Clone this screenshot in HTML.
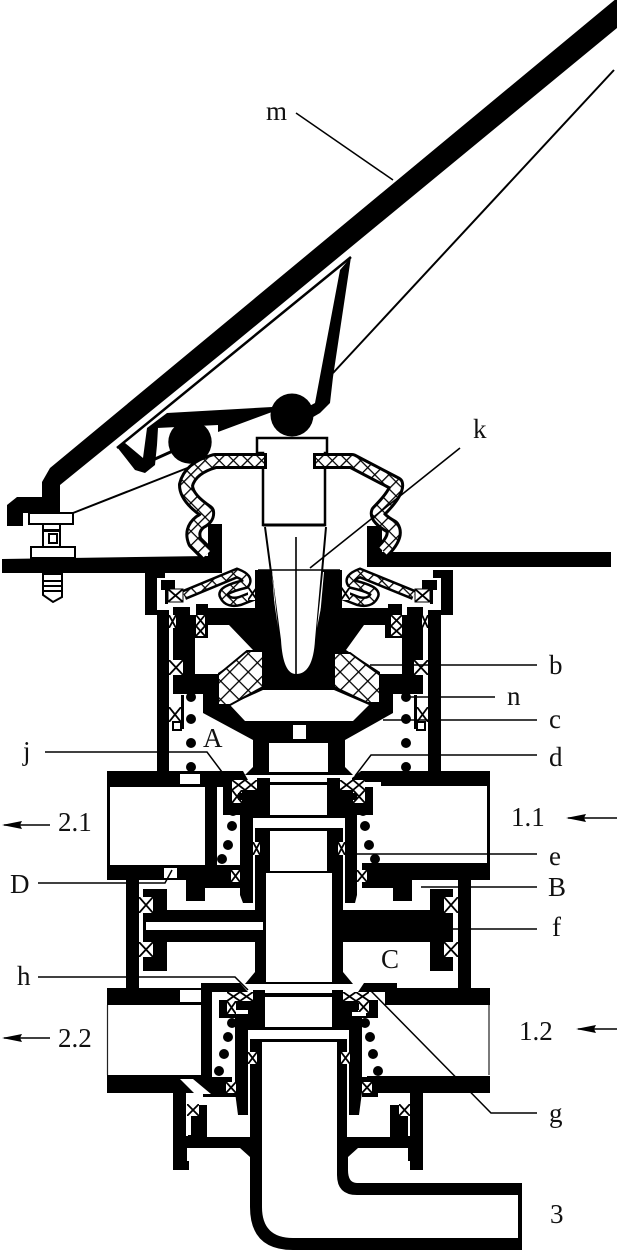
<!DOCTYPE html>
<html><head><meta charset="utf-8"><style>
html,body{margin:0;padding:0;background:#fff}
svg{display:block}
text{font-family:"Liberation Serif",serif;font-size:27px;fill:#111}
</style></head><body>
<svg width="617" height="1251" viewBox="0 0 617 1251" xmlns="http://www.w3.org/2000/svg">
<defs>
<pattern id="h" width="10" height="10" patternUnits="userSpaceOnUse" patternTransform="rotate(45)">
<rect width="10" height="10" fill="#fff"/><path d="M0 0H10M0 0V10" stroke="#000" stroke-width="2.6"/></pattern>
<pattern id="h2" width="13" height="13" patternUnits="userSpaceOnUse" patternTransform="rotate(45)">
<rect width="13" height="13" fill="#fff"/><path d="M0 0H13M0 0V13" stroke="#000" stroke-width="2.6"/></pattern>
<symbol id="q" viewBox="0 0 10 10" preserveAspectRatio="none">
<rect x="0" y="0" width="10" height="10" fill="#fff"/>
<path d="M0 0L10 10M10 0L0 10" stroke="#000" stroke-width="1.8" vector-effect="non-scaling-stroke" fill="none"/>
</symbol>
</defs>
<rect width="617" height="1251" fill="#fff"/>

<!-- pedal -->
<path d="M617 -2L50 468L42 482V497H17L7 505V526H23V513H60V485L226 350L617 28Z" fill="#000"/>
<path d="M117 448L351 257" stroke="#000" stroke-width="2.5" fill="none"/>
<path d="M351 257L333 377L330 403L320 413L308 420L302 410L315 403L340 270Z" fill="#000"/>
<path d="M333 373L614 70" stroke="#000" stroke-width="2"/>
<path d="M147 428L167 413L272 407V412L218 432V425L157 428Z" fill="#000"/>
<path d="M117 447L125 443L143 458L147 428L158 428L157 445L155 465L145 473L135 470Z" fill="#000"/>
<path d="M155 459L175 450" stroke="#000" stroke-width="3"/>
<circle cx="292" cy="415" r="21.5" fill="#000"/>
<circle cx="190" cy="442" r="21.7" fill="#000"/>
<path d="M73 513L190 467" stroke="#000" stroke-width="2"/>

<!-- bolt -->
<path d="M43 524H60V548H43Z" fill="#fff" stroke="#000" stroke-width="2"/>
<path d="M29 513H73V524H29ZM31 547H75V558H31Z" fill="#fff" stroke="#000" stroke-width="2"/>
<rect x="44" y="529" width="15" height="3" fill="#000"/>
<rect x="49" y="534" width="8" height="9" fill="none" stroke="#000" stroke-width="2"/>
<path d="M43 574V595L53 602L62 597V574Z" fill="#fff" stroke="#000" stroke-width="2"/>
<path d="M43 581H62M43 586H62M43 591H62" stroke="#000" stroke-width="2"/>

<!-- plate -->
<path d="M2 559L208 556V524H222V573H2ZM367 526H382V552H611V567H367Z" fill="#000"/>

<!-- outer walls, flanges -->
<path d="M145 570H165V578H157V615H145Z" fill="#000"/>
<path d="M433 570H453V615H441V578H433Z" fill="#000"/>
<rect x="157" y="610" width="12" height="163" fill="#000"/>
<rect x="428" y="610" width="13" height="163" fill="#000"/>

<!-- upper diaphragms -->
<g fill="none">
<path d="M184 595L237 573Q250 578 245 584Q220 590 224 596Q228 604 240 601L258 594" stroke="#000" stroke-width="10.5"/>
<path d="M184 595L237 573Q250 578 245 584Q220 590 224 596Q228 604 240 601L258 594" stroke="url(#h)" stroke-width="5.5"/>
<path d="M414 595L360 573Q347 578 352 584Q378 590 374 596Q370 604 358 601L340 594" stroke="#000" stroke-width="10.5"/>
<path d="M414 595L360 573Q347 578 352 584Q378 590 374 596Q370 604 358 601L340 594" stroke="url(#h)" stroke-width="5.5"/>
</g>
<rect x="161" y="580" width="14" height="10" fill="#000"/><rect x="165" y="590" width="3" height="14" fill="#000"/>
<rect x="422" y="580" width="15" height="10" fill="#000"/><rect x="430" y="590" width="3" height="14" fill="#000"/>
<use href="#q" x="168" y="589" width="15" height="13"/><rect x="168" y="589" width="15" height="13" fill="none" stroke="#000"/>
<use href="#q" x="415" y="589" width="15" height="13"/><rect x="415" y="589" width="15" height="13" fill="none" stroke="#000"/>
<use href="#q" x="248" y="587" width="9" height="13"/><use href="#q" x="341" y="587" width="9" height="13"/>

<!-- piston main -->
<path d="M255 570H342V608H388V604H402V615H407V607H423V694H393V713L345 740V767L353 775H245L253 767V740L203 713V694H173V607H190V615H196V604H208V608H255Z" fill="#000"/>
<path d="M208 625H229L253 650L218 673V674H195V638H208Z" fill="#fff"/>
<path d="M385 625H364L346 650L380 672V674H402V638H385Z" fill="#fff"/>
<path d="M230 705L245 721H353L369 705L334 690H263Z" fill="#fff"/>
<rect x="269" y="743" width="59" height="29" fill="#fff"/>
<rect x="293" y="725" width="13" height="14" fill="#fff"/>

<!-- crosshatch blocks -->
<path d="M218 675L247 651H263V687L230 705H218Z" fill="url(#h2)" stroke="#000" stroke-width="2"/>
<path d="M334 653H350L380 675V703H368L334 687Z" fill="url(#h2)" stroke="#000" stroke-width="2"/>

<!-- stem -->
<path d="M257 438H327V453H325V525H263V453H257Z" fill="#fff" stroke="#000" stroke-width="2.5"/>
<path d="M263 525H325" stroke="#000" stroke-width="3"/>
<path d="M263 527L272 570L280 640Q282 675 296 675Q314 675 316 640L326 527Z" fill="#fff"/>
<path d="M265 527L280 640Q282 675 296 675Q314 675 316 640L326 527" fill="none" stroke="#000" stroke-width="2"/>
<path d="M296 537V675M258 570H340" stroke="#000" stroke-width="1.6"/>
<path d="M272 572L278 628L270 572ZM323 572L317 628L328 572Z" fill="#fff"/>
<path d="M266 572L277 640L272 572ZM330 572L318 640L324 572Z" fill="#000"/>

<!-- bellows -->
<g fill="none" stroke-linejoin="round">
<path d="M267 461H215Q190 468 186 485Q186 498 207 512Q208 518 200 522Q190 530 195 542L207 554" stroke="#000" stroke-width="16"/>
<path d="M267 461H215Q190 468 186 485Q186 498 207 512Q208 518 200 522Q190 530 195 542L207 554" stroke="url(#h)" stroke-width="10"/>
<path d="M314 461H352L396 484Q398 492 378 512Q376 518 392 527Q398 536 383 551" stroke="#000" stroke-width="16"/>
<path d="M314 461H352L396 484Q398 492 378 512Q376 518 392 527Q398 536 383 551" stroke="url(#h)" stroke-width="10"/>
</g>
<rect x="264" y="453" width="3" height="16" fill="#000"/><rect x="313" y="453" width="3" height="16" fill="#000"/>

<!-- upper small seals -->
<g>
<rect x="196" y="615" width="12" height="23" fill="#000"/><use href="#q" x="196" y="615" width="9" height="11"/><use href="#q" x="196" y="626" width="9" height="10"/>
<rect x="388" y="615" width="14" height="23" fill="#000"/><use href="#q" x="391" y="615" width="11" height="11"/><use href="#q" x="391" y="626" width="11" height="10"/>
<rect x="169" y="628" width="4" height="31" fill="#fff"/><rect x="424" y="628" width="4" height="31" fill="#fff"/>
<use href="#q" x="169" y="615" width="7" height="13"/><use href="#q" x="422" y="615" width="6" height="13"/>
<use href="#q" x="169" y="660" width="14" height="15"/><use href="#q" x="414" y="660" width="14" height="15"/>
<use href="#q" x="169" y="707" width="12" height="15"/><use href="#q" x="417" y="707" width="11" height="15"/>
<rect x="181" y="695" width="3" height="34" fill="#000"/><rect x="414" y="695" width="3" height="34" fill="#000"/>
<rect x="173" y="722" width="8" height="8" fill="#fff" stroke="#000" stroke-width="2"/><rect x="417" y="722" width="8" height="8" fill="#fff" stroke="#000" stroke-width="2"/>
</g>
<g fill="#000">
<circle cx="191" cy="697" r="5"/><circle cx="191" cy="719" r="5"/><circle cx="191" cy="743" r="5"/><circle cx="191" cy="767" r="5"/>
<circle cx="406" cy="697" r="5"/><circle cx="406" cy="719" r="5"/><circle cx="406" cy="743" r="5"/><circle cx="406" cy="767" r="5"/>
</g>

<!-- upper housing -->
<path d="M107 771H243L248 780V787H217V865H240V888H205V901H186V880H107Z" fill="#000"/>
<path d="M352 778L361 771H490V880H412V901H393V888H362V863H487V786H381V782H352Z" fill="#000"/>
<rect x="110" y="787" width="95" height="78" fill="#fff"/>
<rect x="180" y="774" width="20" height="10" fill="#fff"/>
<rect x="164" y="868" width="13" height="10" fill="#fff"/>

<!-- upper carriers / sleeve -->
<rect x="223" y="787" width="47" height="28" fill="#000"/><rect x="257" y="778" width="13" height="10" fill="#000"/>
<rect x="327" y="787" width="46" height="28" fill="#000"/><rect x="327" y="778" width="13" height="10" fill="#000"/>
<path d="M240 815H253V903H243L240 895Z" fill="#000"/>
<path d="M345 815H357V895L355 903H345Z" fill="#000"/>
<use href="#q" x="232" y="780" width="13" height="10"/><use href="#q" x="245" y="780" width="12" height="10"/><use href="#q" x="232" y="790" width="10" height="13"/>
<use href="#q" x="340" y="780" width="13" height="10"/><use href="#q" x="353" y="780" width="12" height="10"/><use href="#q" x="353" y="790" width="12" height="13"/>
<rect x="238" y="793" width="32" height="7" fill="#000"/><rect x="327" y="793" width="30" height="7" fill="#000"/>
<circle cx="233" cy="811" r="5" fill="#000"/><circle cx="363" cy="811" r="5" fill="#000"/>
<rect x="270" y="782" width="57" height="3" fill="#000"/>
<rect x="270" y="785" width="57" height="30" fill="#fff"/>
<rect x="253" y="815" width="92" height="3" fill="#000"/>
<rect x="255" y="828" width="88" height="45" fill="#000"/>
<rect x="270" y="831" width="57" height="40" fill="#fff"/>
<use href="#q" x="253" y="842" width="7" height="13"/><use href="#q" x="338" y="842" width="7" height="13"/>
<use href="#q" x="231" y="870" width="9" height="12"/><use href="#q" x="357" y="870" width="10" height="12"/>
<g fill="#000">
<circle cx="232" cy="826" r="5"/><circle cx="228" cy="845" r="5"/><circle cx="222" cy="859" r="5"/>
<circle cx="365" cy="826" r="5"/><circle cx="369" cy="845" r="5"/><circle cx="375" cy="859" r="5"/>
</g>

<!-- mid piston -->
<rect x="126" y="880" width="13" height="108" fill="#000"/>
<rect x="458" y="880" width="13" height="108" fill="#000"/>
<path d="M143 889H167V910H256V942H167V971H143ZM342 910H430V889H453V971H430V942H342Z" fill="#000"/>
<rect x="255" y="873" width="88" height="110" fill="#000"/>
<path d="M255 972L245 984H353L343 972Z" fill="#000"/>
<rect x="266" y="873" width="66" height="109" fill="#fff"/>
<rect x="146" y="922" width="117" height="8" fill="#fff"/>
<use href="#q" x="139" y="897" width="14" height="16"/><use href="#q" x="139" y="942" width="14" height="15"/>
<use href="#q" x="444" y="897" width="14" height="16"/><use href="#q" x="444" y="942" width="14" height="15"/>

<!-- lower housing -->
<rect x="107" y="988" width="94" height="17" fill="#000"/>
<rect x="180" y="990" width="21" height="12" fill="#fff"/>
<path d="M201 983H240L248 992H212V1077H232V1093H237V1097H203V1093H107V1075H201Z" fill="#000"/>
<path d="M180 1079H193L211 1094H195Z" fill="#fff"/>
<path d="M358 992L364 983H397V988H490V1005H385V992Z" fill="#000"/>
<path d="M362 1077H367V1076H490V1093H378V1097H362Z" fill="#000"/>
<path d="M107.5 1005V1075M489 1005V1075" stroke="#222" stroke-width="1.2"/>
<!-- carriers -->
<rect x="219" y="1000" width="46" height="18" fill="#000"/><rect x="253" y="990" width="12" height="12" fill="#000"/><rect x="235" y="1018" width="30" height="9" fill="#000"/>
<rect x="332" y="990" width="11" height="37" fill="#000"/><rect x="343" y="1000" width="35" height="18" fill="#000"/><rect x="343" y="1018" width="19" height="9" fill="#000"/>
<rect x="265" y="993" width="67" height="4" fill="#000"/>
<rect x="265" y="997" width="67" height="30" fill="#fff"/>
<use href="#q" x="227" y="992" width="13" height="9"/><use href="#q" x="240" y="992" width="13" height="9"/><use href="#q" x="227" y="1001" width="9" height="13"/>
<use href="#q" x="343" y="992" width="13" height="9"/><use href="#q" x="356" y="992" width="13" height="9"/><use href="#q" x="358" y="1001" width="11" height="12"/>
<rect x="236" y="1003" width="29" height="7" fill="#000"/><rect x="343" y="1003" width="16" height="7" fill="#000"/>
<rect x="236" y="1010" width="12" height="4" fill="#fff"/><rect x="352" y="1012" width="14" height="4" fill="#fff"/>
<rect x="248" y="1027" width="101" height="3" fill="#000"/>
<path d="M235 1027H248V1115H238L235 1092Z" fill="#000"/>
<path d="M349 1027H362V1092L359 1115H349Z" fill="#000"/>
<g fill="#000">
<circle cx="232" cy="1023" r="5"/><circle cx="365" cy="1023" r="5"/>
<circle cx="228" cy="1037" r="5"/><circle cx="224" cy="1054" r="5"/><circle cx="219" cy="1071" r="5"/>
<circle cx="370" cy="1037" r="5"/><circle cx="373" cy="1054" r="5"/><circle cx="378" cy="1071" r="5"/>
</g>

<!-- bottom tube and flange -->
<path d="M173 1093H186V1135H191V1105H207V1137H250V1039H347V1137H390V1105H410V1093H423V1170H410V1161H408V1148H358L348 1157V1170Q348 1183 357 1183H522V1250H293Q250 1250 250 1207V1157L240 1148H187V1161H189V1170H173Z" fill="#000"/>
<path d="M262 1042V1207Q262 1238 293 1238H518V1195H357Q337 1195 337 1175V1042Z" fill="#fff"/>
<use href="#q" x="187" y="1104" width="12" height="12"/><use href="#q" x="399" y="1104" width="11" height="12"/>
<use href="#q" x="226" y="1082" width="10" height="11"/><use href="#q" x="362" y="1082" width="10" height="11"/>
<use href="#q" x="248" y="1052" width="9" height="12"/><use href="#q" x="341" y="1052" width="9" height="12"/>
<rect x="186" y="1116" width="2" height="20" fill="#fff"/><rect x="408" y="1116" width="2" height="20" fill="#fff"/>

<!-- leaders -->
<g stroke="#000" stroke-width="1.5" fill="none">
<path d="M296 113L393 180"/>
<path d="M310 568L460 448" stroke-width="1.6"/>
<path d="M370 665H537"/>
<path d="M410 697H495"/>
<path d="M383 720H537"/>
<path d="M45 752H207L222 772"/>
<path d="M537 755H371L355 776"/>
<path d="M357 854H537"/>
<path d="M38 883H165L172 870"/>
<path d="M421 887H537"/>
<path d="M453 929H537"/>
<path d="M38 977H235L248 990"/>
<path d="M370 990L491 1113H537"/>
</g>

<!-- arrows -->
<g stroke="#000" stroke-width="1.5">
<path d="M50 825H4"/><path d="M50 1038H4"/><path d="M617 818H568"/><path d="M617 1029H578"/>
</g>
<g fill="#000">
<path d="M2 825L22 821L20 825L22 829Z"/><path d="M2 1038L22 1034L20 1038L22 1042Z"/>
<path d="M566 818L586 814L584 818L586 822Z"/><path d="M576 1029L596 1025L594 1029L596 1033Z"/>
</g>

<!-- labels -->
<text x="266" y="120">m</text>
<text x="473" y="438">k</text>
<text x="549" y="674">b</text>
<text x="507" y="705">n</text>
<text x="549" y="728">c</text>
<text x="549" y="766">d</text>
<text x="23" y="760">j</text>
<text x="203" y="747">A</text>
<text x="549" y="865">e</text>
<text x="511" y="826">1.1</text>
<text x="58" y="831">2.1</text>
<text x="10" y="893">D</text>
<text x="548" y="896">B</text>
<text x="552" y="936">f</text>
<text x="381" y="968">C</text>
<text x="17" y="985">h</text>
<text x="519" y="1040">1.2</text>
<text x="58" y="1047">2.2</text>
<text x="549" y="1122">g</text>
<text x="550" y="1223">3</text>
</svg>
</body></html>
